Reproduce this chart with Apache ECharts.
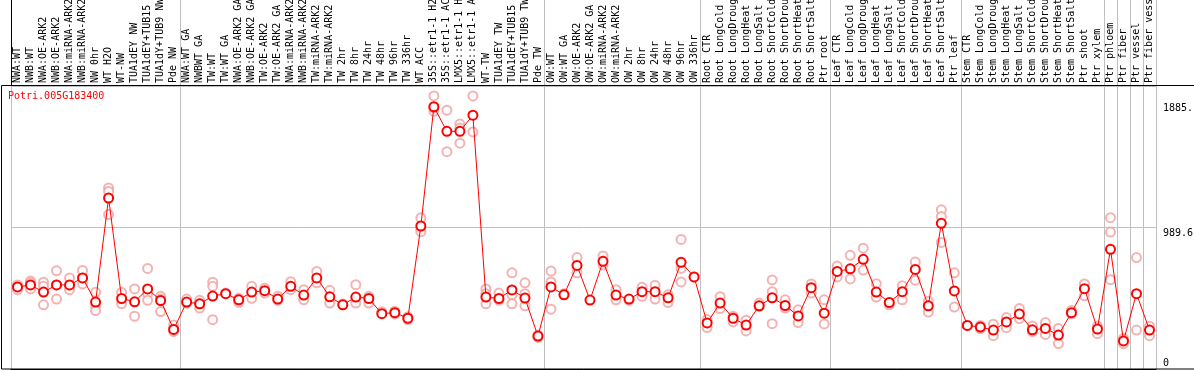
<!DOCTYPE html>
<html>
<head>
<meta charset="utf-8">
<script src="https://cdn.jsdelivr.net/npm/echarts@6/dist/echarts.min.js"></script>
<style>html,body{margin:0;padding:0;background:#fff}#c{width:1194px;height:370px}</style>
</head>
<body>
<div id="c"></div>
<script>
const geneTitle = 'Potri.005G183400';
const categories = ['NWA:WT','NWB:WT','NWA:OE-ARK2','NWB:OE-ARK2','NWA:miRNA-ARK2','NWB:miRNA-ARK2','NW 0hr','WT H2O','WT-NW','TUA1dEY NW','TUA1dEY+TUB15 NW','TUA1dY+TUB9 NW','Pde NW','NWA:WT GA','NWBWT GA','TW:WT','TW:WT GA','NWA:OE-ARK2 GA','NWB:OE-ARK2 GA','TW:OE-ARK2','TW:OE-ARK2 GA','NWA:miRNA-ARK2 GA','NWB:miRNA-ARK2 GA','TW:miRNA-ARK2','TW:miRNA-ARK2 GA','TW 2hr','TW 8hr','TW 24hr','TW 48hr','TW 96hr','TW 336hr','WT ACC','35S::etr1-1 H2O','35S::etr1-1 ACC','LMX5::etr1-1 H2O','LMX5::etr1-1 ACC','WT-TW','TUA1dEY TW','TUA1dEY+TUB15 TW','TUA1dY+TUB9 TW','Pde TW','OW:WT','OW:WT GA','OW:OE-ARK2','OW:OE-ARK2 GA','OW:miRNA-ARK2','OW:miRNA-ARK2 GA','OW 2hr','OW 8hr','OW 24hr','OW 48hr','OW 96hr','OW 336hr','Root CTR','Root LongCold','Root LongDrought','Root LongHeat','Root LongSalt','Root ShortCold','Root ShortDrought','Root ShortHeat','Root ShortSalt','Ptr root','Leaf CTR','Leaf LongCold','Leaf LongDrought','Leaf LongHeat','Leaf LongSalt','Leaf ShortCold','Leaf ShortDrought','Leaf ShortHeat','Leaf ShortSalt','Ptr leaf','Stem CTR','Stem LongCold','Stem LongDrought','Stem LongHeat','Stem LongSalt','Stem ShortCold','Stem ShortDrought','Stem ShortHeat','Stem ShortSalt','Ptr shoot','Ptr xylem','Ptr phloem','Ptr fiber','Ptr vessel','Ptr fiber vessel'];
const means = [574,588,538,588,588,637,468,1196,493,470,560,479,277,468,456,510,527,484,538,548,489,578,517,637,505,449,503,493,387,394,355,1000,1834,1662,1662,1775,503,493,553,496,230,574,519,724,482,753,517,489,541,541,498,746,644,322,461,355,307,442,498,444,371,569,390,682,701,767,538,465,541,696,442,1019,546,305,293,272,329,385,274,284,237,394,562,279,837,196,527,272];
const rep1 = [588,615,607,687,637,689,536,1266,536,560,703,508,308,489,480,607,531,494,578,564,508,611,555,682,550,454,590,508,400,404,346,1057,1910,1810,1713,1910,560,531,673,603,237,685,527,779,null,791,555,480,571,585,519,906,644,346,506,369,341,461,623,484,414,595,484,720,795,845,597,449,583,748,473,1113,673,305,305,313,360,423,301,325,284,409,595,299,1058,214,779,299];
const rep2 = [555,603,578,588,578,637,442,1242,456,369,527,489,261,461,426,578,null,466,494,531,480,555,484,603,461,null,461,461,null,385,365,979,1802,1520,1685,1658,527,480,519,527,221,609,null,673,null,727,484,null,508,489,465,703,null,290,423,329,266,437,541,426,325,531,315,644,630,692,503,null,484,621,398,1066,433,null,282,233,289,353,261,242,178,385,512,247,958,178,272,233];
const rep3 = [null,560,449,489,555,595,409,1080,null,null,480,402,277,null,456,345,null,null,null,null,null,null,null,null,null,null,null,null,null,null,null,960,1826,null,1579,null,456,null,456,442,null,418,null,null,null,null,null,null,null,null,null,609,null,null,null,null,null,null,317,null,null,null,null,null,null,null,null,null,null,null,null,885,null,null,null,null,null,null,null,null,null,null,null,null,625,null,null,null];
const yTickLabels = ['0','989.6'];
const yMaxLabel = '1885.';
const axisMax = 1979.2;
const separatorStarts = [0,13,41,53,63,73,84,85,86,87];

const repPoints = [];
[rep1, rep2, rep3].forEach(r => r.forEach((v, i) => { if (v != null) repPoints.push([i, v]); }));

const FONT = 'DejaVu Sans Mono';
const sepFn = (idx) => separatorStarts.indexOf(idx) >= 0;
const labelSepColors = ['#000'].concat(new Array(12).fill('#c0c0c0'));

const chart = echarts.init(document.getElementById('c'), null, {renderer: 'canvas'});
chart.setOption({
  animation: false,
  backgroundColor: '#fff',
  title: {
    text: geneTitle, left: 8, top: 91, padding: 0,
    textStyle: {color: '#ff0000', fontFamily: FONT, fontSize: 10, fontWeight: 'normal'}
  },
  graphic: [{
    type: 'rect', z: 100, silent: true,
    shape: {x: 1.5, y: 85.5, width: 1200, height: 283.5},
    style: {fill: 'none', stroke: '#000', lineWidth: 1}
  }],
  grid: [
    {left: 11, right: 38, top: 86, bottom: 1, containLabel: false, outerBoundsMode: 'none'},
    {left: 11, right: 38, top: 0, height: 85, containLabel: false, outerBoundsMode: 'none'}
  ],
  xAxis: [{
    type: 'category', data: categories, gridIndex: 0, position: 'top',
    axisLine: {show: true, lineStyle: {color: '#000'}},
    axisTick: {show: false},
    axisLabel: {rotate: 90, interval: 0, margin: 3, fontFamily: FONT, fontSize: 10, color: '#000', hideOverlap: false},
    splitLine: {show: true, interval: sepFn, lineStyle: {color: '#c0c0c0', width: 1}}
  }, {
    type: 'category', data: categories, gridIndex: 1,
    axisLine: {show: false}, axisTick: {show: false}, axisLabel: {show: false},
    splitLine: {show: true, interval: sepFn, lineStyle: {color: labelSepColors, width: 1}}
  }],
  yAxis: [{
    type: 'value', gridIndex: 0, position: 'right', min: 0, max: axisMax, interval: axisMax / 2,
    axisLine: {show: false}, axisTick: {show: false},
    splitLine: {show: true, lineStyle: {color: '#c0c0c0', width: 1}},
    axisLabel: {
      margin: 7, fontFamily: FONT, fontSize: 10, color: '#000',
      formatter: (v) => {
        if (v === 0) return '{lo|' + yTickLabels[0] + '}';
        if (Math.abs(v - axisMax / 2) < 1e-6) return '{mid|' + yTickLabels[1] + '}';
        return '';
      },
      rich: {
        lo: {fontFamily: FONT, fontSize: 10, color: '#000', padding: [0, 0, 12, 0]},
        mid: {fontFamily: FONT, fontSize: 10, color: '#000', padding: [12, 0, 0, 0]}
      }
    }
  }, {
    type: 'value', gridIndex: 0, position: 'right', min: 0, max: axisMax, interval: 1885,
    axisLine: {show: false}, axisTick: {show: false}, splitLine: {show: false},
    axisLabel: {
      margin: 7, fontFamily: FONT, fontSize: 10, color: '#000',
      formatter: (v) => (v === 1885 ? '{hi|' + yMaxLabel + '}' : ''),
      rich: {hi: {fontFamily: FONT, fontSize: 10, color: '#000', padding: [18, 0, 0, 0]}}
    }
  }, {
    type: 'value', gridIndex: 1, show: false, min: 0, max: 1
  }],
  series: [{
    name: 'replicates', type: 'scatter', xAxisIndex: 0, yAxisIndex: 0,
    data: repPoints, symbol: 'emptyCircle', symbolSize: 9,
    itemStyle: {color: '#f0a0a0', borderColor: '#f0a0a0', borderWidth: 1.3}, z: 2
  }, {
    name: 'mean', type: 'line', xAxisIndex: 0, yAxisIndex: 0,
    data: means, symbol: 'emptyCircle', symbolSize: 9, showAllSymbol: true,
    lineStyle: {color: '#ff0000', width: 1},
    itemStyle: {color: '#ff0000', borderColor: '#ff0000', borderWidth: 1.4}, z: 3
  }]
});
</script>
</body>
</html>
